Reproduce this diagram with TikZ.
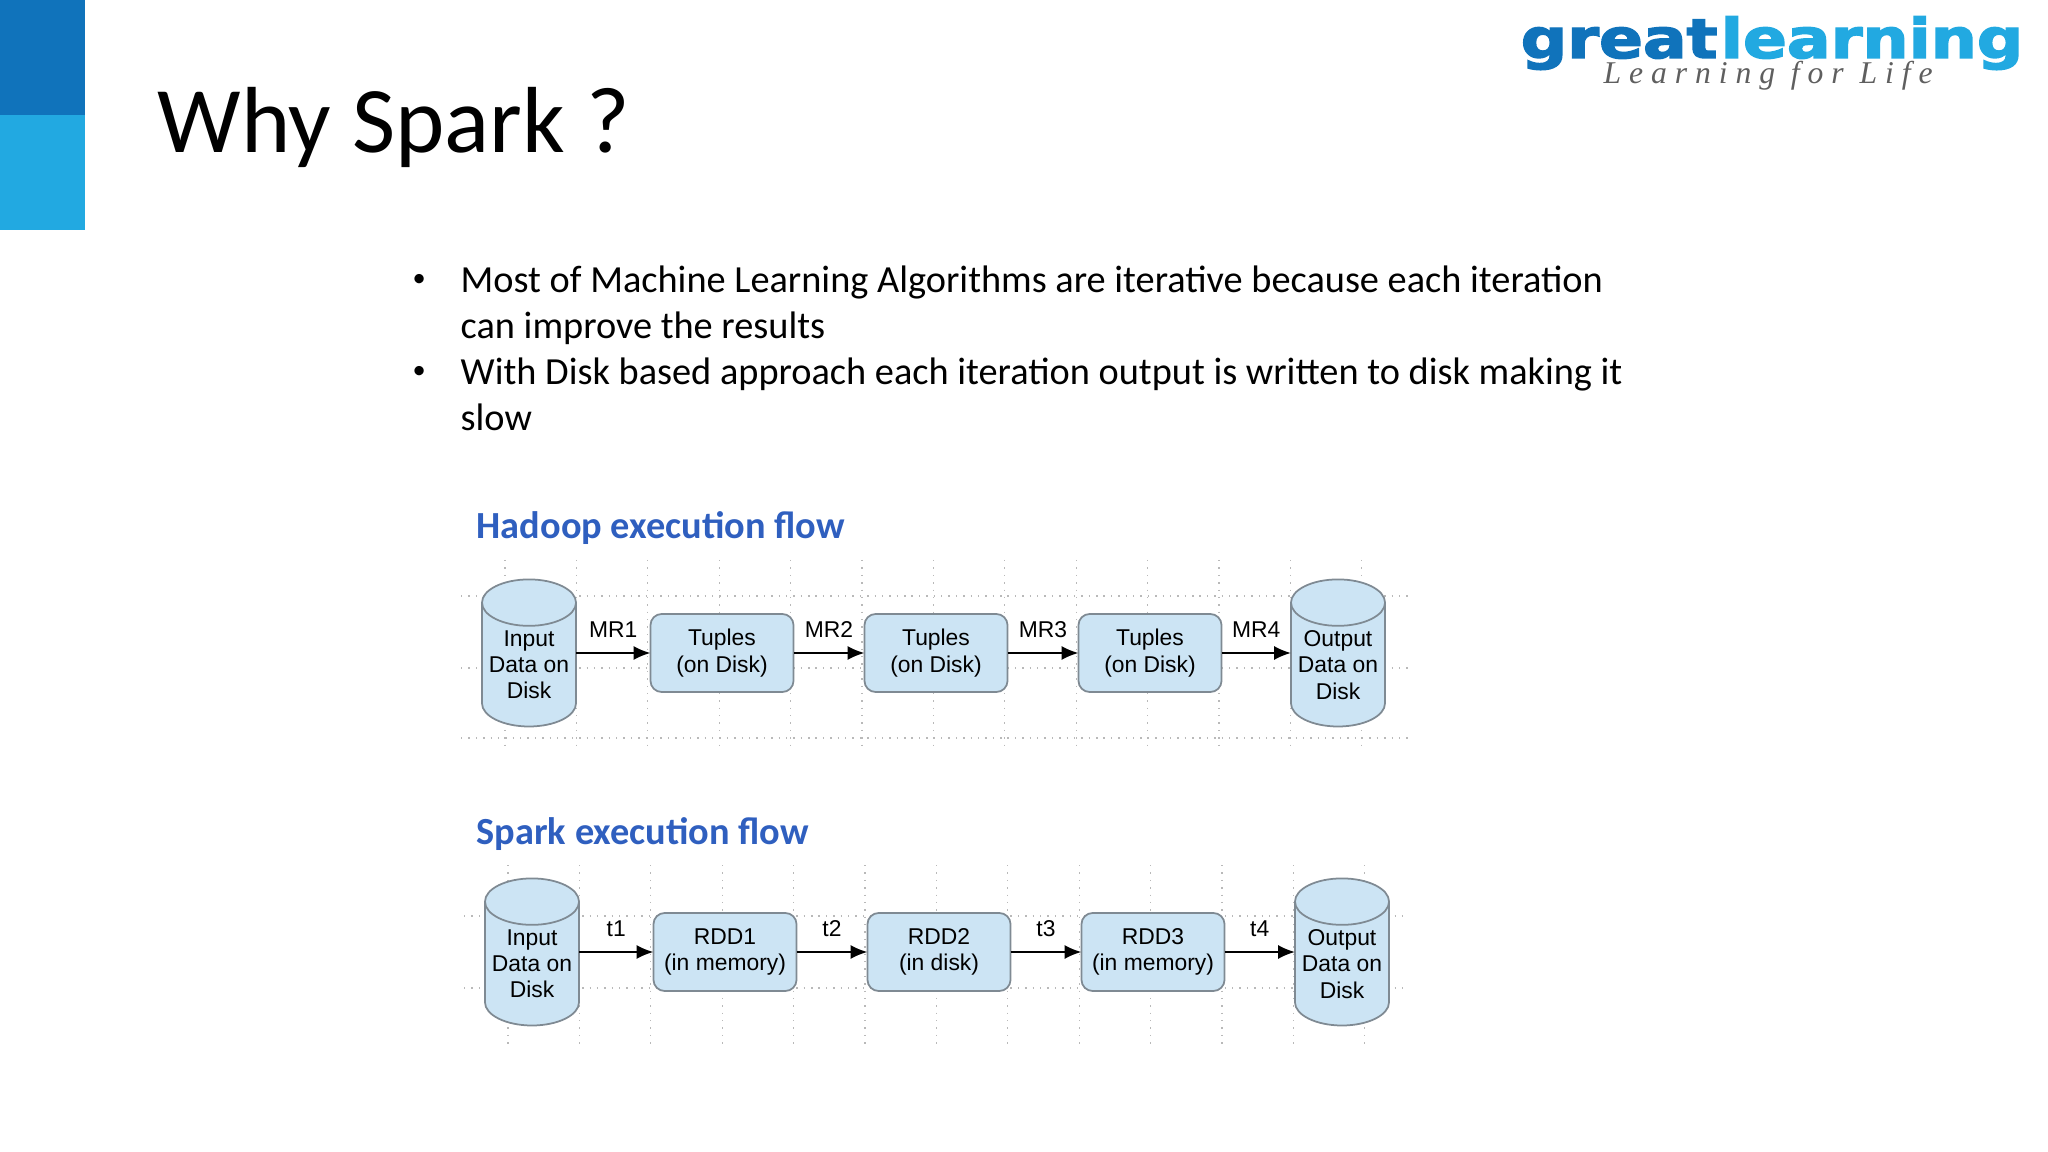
\documentclass[tikz,border=0pt]{standalone}
\usepackage{fontspec}
\usepackage{xcolor}
\setmainfont{Carlito}
\newfontfamily\flowfont{Liberation Sans}
\newfontfamily\logofont[FakeBold=2.5]{DejaVu Sans Bold}
\newfontfamily\tagfont[LetterSpace=25]{Liberation Serif Italic}
\definecolor{gldark}{HTML}{1073BB}
\definecolor{gllight}{HTML}{22A9E1}
\definecolor{glgray}{HTML}{5F5F5F}
\definecolor{flowfill}{HTML}{CCE4F4}
\definecolor{flowline}{HTML}{7F8A93}
\definecolor{headblue}{HTML}{2F5FBF}
\usetikzlibrary{shapes.geometric, arrows.meta, positioning}
\tikzset{
  diskbox/.style={cylinder, shape border rotate=90, aspect=0.58, draw=flowline, line width=0.5pt,
    fill=flowfill, minimum width=0.94cm, minimum height=1.47cm, inner sep=0pt, outer sep=0pt, align=center,
    font=\flowfont\fontsize{6.5}{7.45}\selectfont},
  databox/.style={rectangle, rounded corners=3.2pt, draw=flowline, line width=0.5pt, fill=flowfill,
    minimum width=1.43cm, minimum height=0.78cm, inner sep=0pt, outer sep=0pt, align=center,
    font=\flowfont\fontsize{6.5}{7.45}\selectfont},
  flow/.style={-{Latex[length=4.8pt,width=4pt]}, line width=0.55pt, black},
  flowlabel/.style={midway, above=4pt, inner sep=0pt, font=\flowfont\fontsize{6.5}{7.45}\selectfont},
  griddot/.style={gray!55, line width=0.35pt, dash pattern=on 0.4pt off 1.7pt},
  bodytext/.style={anchor=base west, inner sep=0pt, font=\fontsize{10.9}{13}\selectfont},
  dottext/.style={anchor=base west, inner sep=0pt, font=\fontsize{7.5}{13}\selectfont},
  headtext/.style={anchor=base west, inner sep=0pt, text=headblue, font=\bfseries\fontsize{10.9}{13}\selectfont}
}
\begin{document}
\begin{tikzpicture}[x=0.01cm, y=-0.01cm]
\useasboundingbox (0,0) rectangle (2048,1152);
% Corner bars
\fill[gldark] (0,0) rectangle (85,115);
\fill[gllight] (0,115) rectangle (85,230);

% Logo
\node[anchor=base west, inner sep=0pt, xscale=1.18, text=gldark, font=\logofont\fontsize{15.6}{16}\selectfont] (great) at (1520,58) {great};
\node[anchor=base west, inner sep=0pt, xscale=1.18, text=gllight, font=\logofont\fontsize{15.6}{16}\selectfont] (learning) at (1720,58) {learning};
\node[anchor=base west, inner sep=0pt, text=glgray, font=\tagfont\fontsize{9}{9}\selectfont] (tagline) at (1603,84) {Learning for Life};

% Title and bullets
\node[anchor=base west, inner sep=0pt, font=\fontsize{26.7}{30}\selectfont] (title) at (157,153) {Why Spark ?};
\node[dottext] (dot1) at (412,287) {•};
\node[bodytext] (line1) at (460,293) {Most of Machine Learning Algorithms are iterative because each iteration};
\node[bodytext] (line2) at (460,339) {can improve the results};
\node[dottext] (dot2) at (412,379) {•};
\node[bodytext] (line3) at (460,385) {With Disk based approach each iteration output is written to disk making it};
\node[bodytext] (line4) at (460,431) {slow};

% Hadoop flow
\node[headtext] (hadoophead) at (476,539) {Hadoop execution flow};
\foreach \x in {0,...,12}
  \draw[griddot] (505+71.4*\x,560) -- (505+71.4*\x,747);
\foreach \y in {596,668,738}
  \draw[griddot] (461,\y) -- (1408,\y);
\node[diskbox] (hin) at (529,665) {Input\\Data on\\Disk};
\node[databox] (htup1) at (722,653) {Tuples\\(on Disk)};
\node[databox] (htup2) at (936,653) {Tuples\\(on Disk)};
\node[databox] (htup3) at (1150,653) {Tuples\\(on Disk)};
\node[diskbox] (hout) at (1338,665) {Output\\Data on\\Disk};
\draw[flow] (hin.east |- htup1) -- node[flowlabel] {MR1} (htup1);
\draw[flow] (htup1) -- node[flowlabel] {MR2} (htup2);
\draw[flow] (htup2) -- node[flowlabel] {MR3} (htup3);
\draw[flow] (htup3) -- node[flowlabel] {MR4} (hout.west |- htup3);

% Spark flow
\node[headtext] (sparkhead) at (476,844) {Spark execution flow};
\foreach \x in {0,...,12}
  \draw[griddot] (508+71.4*\x,865) -- (508+71.4*\x,1045);
\foreach \y in {916,988}
  \draw[griddot] (464,\y) -- (1408,\y);
\node[diskbox] (sin) at (532,964) {Input\\Data on\\Disk};
\node[databox] (srdd1) at (725,952) {RDD1\\(in memory)};
\node[databox] (srdd2) at (939,952) {RDD2\\(in disk)};
\node[databox] (srdd3) at (1153,952) {RDD3\\(in memory)};
\node[diskbox] (sout) at (1342,964) {Output\\Data on\\Disk};
\draw[flow] (sin.east |- srdd1) -- node[flowlabel] {t1} (srdd1);
\draw[flow] (srdd1) -- node[flowlabel] {t2} (srdd2);
\draw[flow] (srdd2) -- node[flowlabel] {t3} (srdd3);
\draw[flow] (srdd3) -- node[flowlabel] {t4} (sout.west |- srdd3);
\end{tikzpicture}
\end{document}
